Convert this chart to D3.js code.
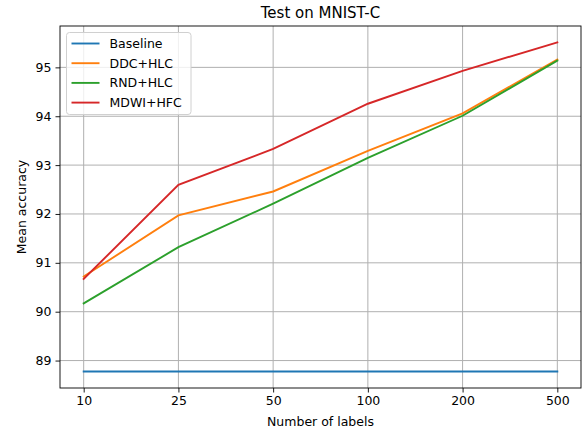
<!DOCTYPE html>
<html>
<head>
<meta charset="utf-8">
<script src="https://cdn.jsdelivr.net/npm/d3@7"></script>
<style>
  body { margin: 0; background: #fff; }
  svg { display: block; font-family: "DejaVu Sans", sans-serif; }
</style>
</head>
<body>
<div id="chart"></div>
<script>
// Données
const labels = ["10", "25", "50", "100", "200", "500"];
const seriesNames = ["Baseline", "DDC+HLC", "RND+HLC", "MDWI+HFC"];
const colors = ["#1f77b4", "#ff7f0e", "#2ca02c", "#d62728"];
const baseline = [88.775, 88.775, 88.775, 88.775, 88.775, 88.775];
const ddcHlc = [90.72, 91.97, 92.46, 93.29, 94.06, 95.16];
const rndHlc = [90.17, 91.32, 92.21, 93.15, 94.01, 95.14];
const mdwiHfc = [90.67, 92.595, 93.33, 94.256, 94.93, 95.51];
const yTicks = [89, 90, 91, 92, 93, 94, 95];

const series = [baseline, ddcHlc, rndHlc, mdwiHfc];

const width = 584;
const height = 432;
const margin = { top: 26, right: 3, bottom: 44, left: 60 };

const svg = d3
  .select("#chart")
  .append("svg")
  .attr("width", width)
  .attr("height", height);

// Échelles (marges de 5 % comme matplotlib)
const x = d3
  .scaleLinear()
  .domain([-0.25, labels.length - 1 + 0.25])
  .range([margin.left, width - margin.right]);

const allVals = series.flat();
const yMin = d3.min(allVals);
const yMax = d3.max(allVals);
const pad = (yMax - yMin) * 0.05;
const y = d3
  .scaleLinear()
  .domain([yMin - pad, yMax + pad])
  .range([height - margin.bottom, margin.top]);

// Grille
const grid = svg.append("g").attr("stroke", "#b0b0b0").attr("stroke-width", 1);
labels.forEach((l, i) => {
  grid
    .append("line")
    .attr("x1", x(i))
    .attr("x2", x(i))
    .attr("y1", margin.top)
    .attr("y2", height - margin.bottom);
});
yTicks.forEach((t) => {
  grid
    .append("line")
    .attr("x1", margin.left)
    .attr("x2", width - margin.right)
    .attr("y1", y(t))
    .attr("y2", y(t));
});

// Courbes
const line = d3
  .line()
  .x((d, i) => x(i))
  .y((d) => y(d));

series.forEach((s, k) => {
  svg
    .append("path")
    .datum(s)
    .attr("d", line)
    .attr("fill", "none")
    .attr("stroke", colors[k])
    .attr("stroke-width", 1.9)
    .attr("stroke-linecap", "square");
});

// Axes
const xAxis = d3
  .axisBottom(x)
  .tickValues(d3.range(labels.length))
  .tickFormat((i) => labels[i])
  .tickSize(4.5)
  .tickPadding(4);
const gx = svg
  .append("g")
  .attr("transform", `translate(0,${height - margin.bottom})`)
  .call(xAxis);

const yAxis = d3.axisLeft(y).tickValues(yTicks).tickSize(4.5).tickPadding(4);
const gy = svg
  .append("g")
  .attr("transform", `translate(${margin.left},0)`)
  .call(yAxis);

[gx, gy].forEach((g) => {
  g.select(".domain").remove();
  g.selectAll("text")
    .attr("font-size", 12.5)
    .attr("font-family", "DejaVu Sans")
    .attr("fill", "#000");
  g.selectAll("line").attr("stroke", "#000").attr("stroke-width", 0.9);
});

// Cadre
svg
  .append("rect")
  .attr("x", margin.left)
  .attr("y", margin.top)
  .attr("width", width - margin.left - margin.right)
  .attr("height", height - margin.top - margin.bottom)
  .attr("fill", "none")
  .attr("stroke", "#000")
  .attr("stroke-width", 0.9);

// Titres
svg
  .append("text")
  .attr("x", (margin.left + width - margin.right) / 2)
  .attr("y", 18)
  .attr("text-anchor", "middle")
  .attr("font-size", 15)
  .text("Test on MNIST-C");

svg
  .append("text")
  .attr("x", (margin.left + width - margin.right) / 2)
  .attr("y", 426)
  .attr("text-anchor", "middle")
  .attr("font-size", 12.5)
  .text("Number of labels");

svg
  .append("text")
  .attr("transform", `translate(26,${(margin.top + height - margin.bottom) / 2}) rotate(-90)`)
  .attr("text-anchor", "middle")
  .attr("font-size", 12.5)
  .text("Mean accuracy");

// Légende
const legend = svg.append("g").attr("transform", `translate(${margin.left + 6.5},${margin.top + 6.5})`);
legend
  .append("rect")
  .attr("width", 124.5)
  .attr("height", 82)
  .attr("rx", 3)
  .attr("fill", "#fff")
  .attr("fill-opacity", 0.8)
  .attr("stroke", "#d0d0d0")
  .attr("stroke-width", 1);

seriesNames.forEach((name, k) => {
  const row = legend.append("g").attr("transform", `translate(0,${11 + k * 19.7})`);
  row
    .append("line")
    .attr("x1", 5)
    .attr("x2", 33)
    .attr("stroke", colors[k])
    .attr("stroke-width", 1.9);
  row
    .append("text")
    .attr("x", 43)
    .attr("dy", "0.35em")
    .attr("font-size", 12.5)
    .text(name);
});
</script>
</body>
</html>
